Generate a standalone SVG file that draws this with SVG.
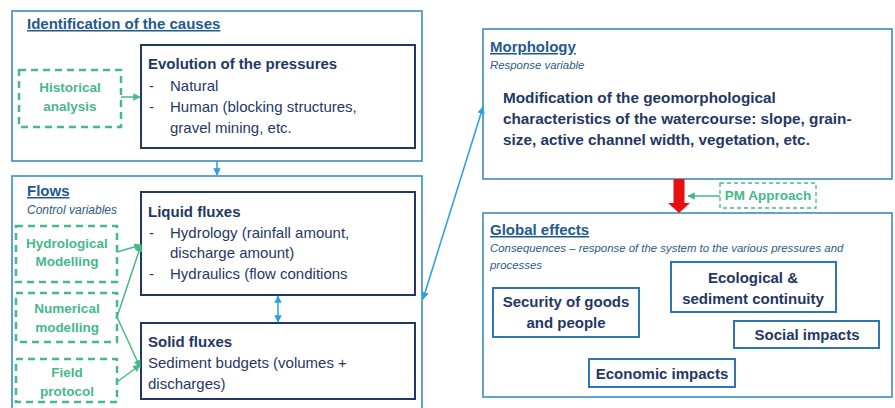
<svg xmlns="http://www.w3.org/2000/svg" width="895" height="408" viewBox="0 0 895 408">
<defs>
<style>
text{font-family:"Liberation Sans",Arial,sans-serif;fill:#1f3864}
.outer{fill:none;stroke:#3a8cc4;stroke-width:1.6}
.inner{fill:#fff;stroke:#1f3864;stroke-width:2}
.fx{fill:#fff;stroke:#2e75b6;stroke-width:2}
.dash{fill:#fff;stroke:#45b98a;stroke-width:2.5;stroke-dasharray:7 5}
.dash2{fill:#fff;stroke:#45b98a;stroke-width:1.3;stroke-dasharray:4 3}
.ttl{font-size:15px;font-weight:bold;fill:#1f5a8f;text-decoration:underline}
.sub{font-size:12px;font-style:italic;fill:#2c5a85}
.sm{font-size:11.4px}
.hd{font-size:15px;font-weight:bold}
.tx{font-size:15px}
.big{font-size:15.3px;font-weight:bold}
.gr{font-size:13.5px;font-weight:bold;fill:#45b98a;text-anchor:middle}
.bx{font-size:15px;font-weight:bold;text-anchor:middle}
.blue{stroke:#29a3dc;stroke-width:1.5;fill:none}
.green{stroke:#45b98a;stroke-width:1.5;fill:none}
</style>
<marker id="ab" viewBox="0 0 10 10" refX="9" refY="5" markerWidth="5" markerHeight="5" orient="auto-start-reverse"><path d="M0,0 L10,5 L0,10 z" fill="#29a3dc"/></marker>
<marker id="ag" viewBox="0 0 10 10" refX="9" refY="5" markerWidth="5" markerHeight="5" orient="auto-start-reverse"><path d="M0,0 L10,5 L0,10 z" fill="#45b98a"/></marker>
</defs>
<rect width="895" height="408" fill="#fff"/>

<g id="identification">
<rect class="outer" x="12" y="11" width="410" height="150"/>
<text class="ttl" x="27" y="29">Identification of the causes</text>
</g>
<g id="evolution">
<rect class="inner" x="141" y="45" width="274" height="103"/>
<text class="hd" x="148" y="69">Evolution of the pressures</text>
<text class="tx" x="149" y="91">-</text><text class="tx" x="170" y="91">Natural</text>
<text class="tx" x="149" y="112">-</text><text class="tx" x="170" y="112">Human (blocking structures,</text>
<text class="tx" x="170" y="133">gravel mining, etc.</text>
</g>
<g id="historical">
<rect class="dash" x="19" y="70" width="102" height="57"/>
<text class="gr" x="70" y="92">Historical</text>
<text class="gr" x="70" y="111">analysis</text>
</g>

<g id="flows">
<rect class="outer" x="12" y="176" width="410" height="240"/>
<text class="ttl" x="27" y="196">Flows</text>
<text class="sub" x="27" y="214">Control variables</text>
</g>
<g id="liquid">
<rect class="inner" x="141" y="192" width="274" height="103"/>
<text class="hd" x="148" y="217">Liquid fluxes</text>
<text class="tx" x="149" y="238">-</text><text class="tx" x="170" y="238">Hydrology (rainfall amount,</text>
<text class="tx" x="170" y="258">discharge amount)</text>
<text class="tx" x="149" y="279">-</text><text class="tx" x="170" y="279">Hydraulics (flow conditions</text>
</g>
<g id="solid">
<rect class="inner" x="141" y="323" width="274" height="76"/>
<text class="hd" x="148" y="347">Solid fluxes</text>
<text class="tx" x="148" y="368">Sediment budgets (volumes +</text>
<text class="tx" x="148" y="389">discharges)</text>
</g>
<g id="hydrological">
<rect class="dash" x="16" y="226" width="101" height="56"/>
<text class="gr" x="67" y="248">Hydrological</text>
<text class="gr" x="67" y="266">Modelling</text>
</g>
<g id="numerical">
<rect class="dash" x="16" y="293" width="101" height="49"/>
<text class="gr" x="67" y="313">Numerical</text>
<text class="gr" x="67" y="332">modelling</text>
</g>
<g id="field">
<rect class="dash" x="16" y="359" width="101" height="43"/>
<text class="gr" x="67" y="377">Field</text>
<text class="gr" x="67" y="396">protocol</text>
</g>

<g id="morphology">
<rect class="outer" x="483" y="29" width="409" height="150"/>
<text class="ttl" x="490" y="52">Morphology</text>
<text class="sub sm" x="490" y="69">Response variable</text>
<text class="big" x="503" y="103">Modification of the geomorphological</text>
<text class="big" x="503" y="124">characteristics of the watercourse: slope, grain-</text>
<text class="big" x="503" y="145">size, active channel width, vegetation, etc.</text>
</g>
<g id="pm">
<rect class="dash2" x="720" y="183" width="96" height="25"/>
<text class="gr" x="768" y="200">PM Approach</text>
</g>
<g id="global">
<rect class="outer" x="483" y="213" width="409" height="184"/>
<text class="ttl" x="490" y="235">Global effects</text>
<text class="sub sm" x="490" y="252">Consequences – response of the system to the various pressures and</text>
<text class="sub sm" x="490" y="269">processes</text>
</g>
<g id="security">
<rect class="fx" x="493" y="288" width="146" height="49"/>
<text class="bx" x="566" y="307">Security of goods</text>
<text class="bx" x="566" y="328">and people</text>
</g>
<g id="ecological">
<rect class="fx" x="671" y="262" width="165" height="50"/>
<text class="bx" x="753" y="283">Ecological &amp;</text>
<text class="bx" x="753" y="304">sediment continuity</text>
</g>
<g id="social">
<rect class="fx" x="734" y="321" width="145" height="27"/>
<text class="bx" x="807" y="340">Social impacts</text>
</g>
<g id="economic">
<rect class="fx" x="589" y="359" width="146" height="28"/>
<text class="bx" x="662" y="379">Economic impacts</text>
</g>

<g id="connectors">
<line class="blue" x1="217" y1="161" x2="217" y2="175" marker-end="url(#ab)"/>
<line class="blue" x1="278" y1="296" x2="278" y2="322" marker-start="url(#ab)" marker-end="url(#ab)"/>
<line class="blue" x1="423" y1="299" x2="483" y2="107" marker-start="url(#ab)" marker-end="url(#ab)"/>
<line class="green" x1="121" y1="97" x2="140" y2="97" marker-end="url(#ag)"/>
<line class="green" x1="117" y1="252" x2="141" y2="245" marker-end="url(#ag)"/>
<line class="green" x1="117" y1="317" x2="141" y2="245" marker-end="url(#ag)"/>
<line class="green" x1="117" y1="317" x2="140" y2="367" marker-end="url(#ag)"/>
<line class="green" x1="117" y1="382" x2="140" y2="365" marker-end="url(#ag)"/>
<line class="green" x1="720" y1="196" x2="688" y2="196" marker-end="url(#ag)"/>
<path d="M673.5,179 H684.5 V203 H690 L679,213 L668,203 H673.5 Z" fill="#e8100e"/>
</g>
</svg>
